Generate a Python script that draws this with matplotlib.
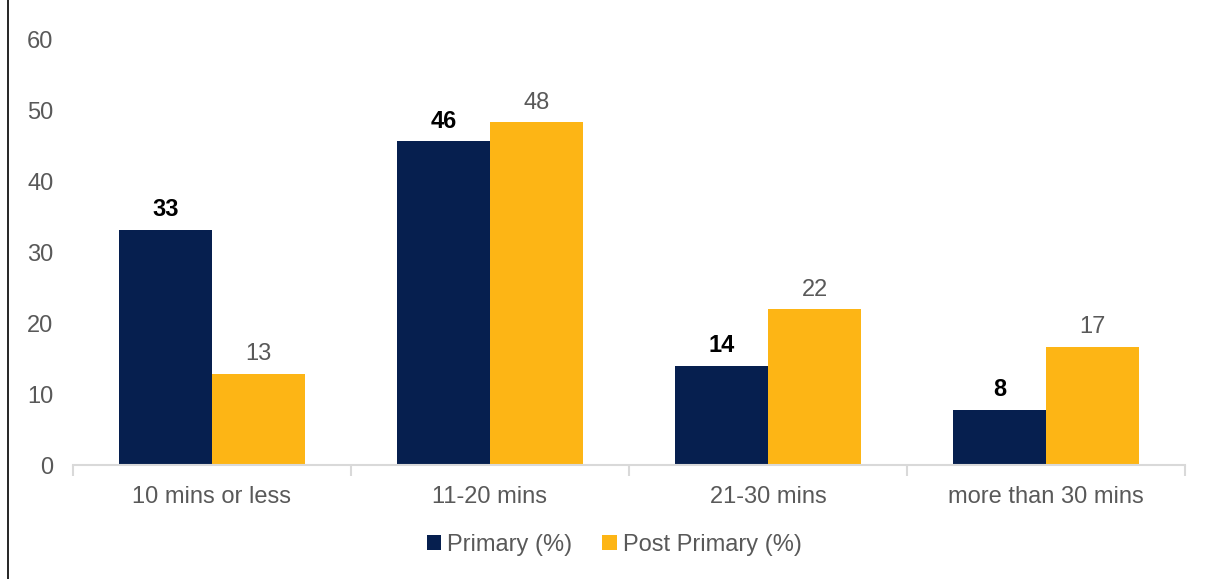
import matplotlib
matplotlib.use("Agg")
import matplotlib.pyplot as plt
from matplotlib.lines import Line2D
import numpy as np

categories = ["10 mins or less", "11-20 mins", "21-30 mins", "more than 30 mins"]
primary = [33.2, 45.7, 14.0, 7.8]
post_primary = [12.9, 48.4, 22.0, 16.7]
series_names = ["Primary (%)", "Post Primary (%)"]
yticks = [0, 10, 20, 30, 40, 50, 60]

navy = "#061f4f"
gold = "#fdb515"
grey_text = "#595959"
fs = 17

plt.rcParams["font.family"] = ["Liberation Sans", "DejaVu Sans"]

fig = plt.figure(figsize=(12.11, 5.79), dpi=100)
ax = fig.add_axes([73 / 1211, 114 / 579, (1185 - 73) / 1211, (465 - 40) / 579])

x = np.arange(len(categories))
w = 0.335
b1 = ax.bar(x - w / 2, primary, w, color=navy, label=series_names[0])
b2 = ax.bar(x + w / 2, post_primary, w, color=gold, label=series_names[1])

for rect, v in zip(b1, primary):
    ax.text(rect.get_x() + rect.get_width() / 2, v + 1.2, f"{v:.0f}",
            ha="center", va="bottom", fontsize=fs, fontweight="bold", color="black")
for rect, v in zip(b2, post_primary):
    ax.text(rect.get_x() + rect.get_width() / 2, v + 1.2, f"{v:.0f}",
            ha="center", va="bottom", fontsize=fs, color=grey_text)

ax.set_xlim(-0.5, len(categories) - 0.5)
ax.set_ylim(0, 60)
ax.set_yticks(yticks)
ax.tick_params(axis="y", length=0, labelsize=fs, labelcolor=grey_text, pad=14)

ax.set_xticks(x)
ax.set_xticklabels(categories)
ax.tick_params(axis="x", which="major", length=0, labelsize=fs, labelcolor=grey_text, pad=15)
ax.set_xticks(np.arange(len(categories) + 1) - 0.5, minor=True)
ax.tick_params(axis="x", which="minor", length=8, color="#d9d9d9", width=1.5)

for s in ["top", "right", "left"]:
    ax.spines[s].set_visible(False)
ax.spines["bottom"].set_color("#d9d9d9")
ax.spines["bottom"].set_linewidth(1.5)

leg = fig.legend(handles=[b1, b2], labels=series_names, loc="center",
                 bbox_to_anchor=(614 / 1211, 1 - 545 / 579), ncol=2, frameon=False,
                 fontsize=fs, handlelength=0.6, handleheight=0.6,
                 handletextpad=0.25, columnspacing=1.3)
for t in leg.get_texts():
    t.set_color(grey_text)

fig.add_artist(Line2D([8 / 1211, 8 / 1211], [0, 1], color="black", linewidth=1.2,
                      transform=fig.transFigure))

fig.savefig("out.png", dpi=100, facecolor="white")
